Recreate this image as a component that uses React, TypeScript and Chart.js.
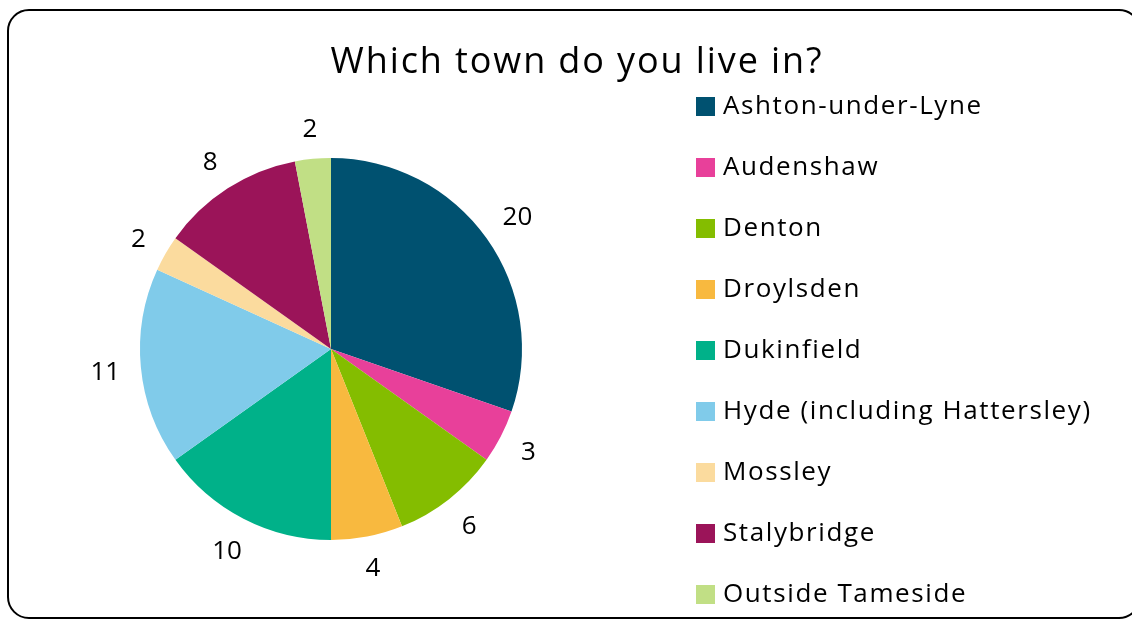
import React, { useEffect, useRef } from "react";
import { Chart, registerables } from "chart.js";

Chart.register(...registerables);

const title = "Which town do you live in?";
const towns = [
  "Ashton-under-Lyne",
  "Audenshaw",
  "Denton",
  "Droylsden",
  "Dukinfield",
  "Hyde (including Hattersley)",
  "Mossley",
  "Stalybridge",
  "Outside Tameside",
];
const counts = [20, 3, 6, 4, 10, 11, 2, 8, 2];
const colors = [
  "#005170",
  "#E8409A",
  "#84BD00",
  "#F8B93F",
  "#00B189",
  "#80CBEA",
  "#FBDB9E",
  "#9B1459",
  "#C1DF85",
];

const FONT = "'Open Sans', 'DejaVu Sans', sans-serif";

function drawCentered(ctx: CanvasRenderingContext2D, text: string, cx: number, cy: number) {
  const m = ctx.measureText(text);
  const asc = m.actualBoundingBoxAscent;
  const desc = 0;
  ctx.fillText(text, cx, cy + (asc - desc) / 2);
}

const overlayPlugin = {
  id: "overlay",
  afterDraw(chart: any) {
    const ctx = chart.ctx as CanvasRenderingContext2D;
    ctx.save();
    ctx.fillStyle = "#000";
    ctx.textBaseline = "alphabetic";

    // title
    ctx.font = `36px ${FONT}`;
    (ctx as any).letterSpacing = "1.9px";
    ctx.textAlign = "center";
    const tm = ctx.measureText("W");
    ctx.fillText(title, 577, 60 + tm.actualBoundingBoxAscent / 2);

    // value labels outside slices
    const meta = chart.getDatasetMeta(0);
    ctx.font = `26px ${FONT}`;
    (ctx as any).letterSpacing = "0px";
    meta.data.forEach((arc: any, i: number) => {
      const txt = String(chart.data.datasets[0].data[i]);
      const m = ctx.measureText(txt);
      const hw = m.width / 2;
      const hh = 10;
      const mid = (arc.startAngle + arc.endAngle) / 2;
      const c = Math.cos(mid);
      const s = Math.sin(mid);
      const d = arc.outerRadius + 20 + Math.abs(c) * hw + Math.abs(s) * hh;
      const x = arc.x + c * d;
      const y = arc.y + s * d;
      drawCentered(ctx, txt, x, y);
    });

    // legend
    const labels = chart.data.labels as string[];
    const bg = chart.data.datasets[0].backgroundColor as string[];
    ctx.textAlign = "left";
    ctx.font = `26px ${FONT}`;
    (ctx as any).letterSpacing = "1.6px";
    const capA = ctx.measureText("H").actualBoundingBoxAscent;
    labels.forEach((lab, i) => {
      const cy = 106 + i * 61;
      ctx.fillStyle = bg[i];
      ctx.fillRect(696, cy - 9, 19, 19);
      ctx.fillStyle = "#000";
      ctx.fillText(lab, 723, cy - 1.5 + capA / 2);
    });
    ctx.restore();
  },
};

export default function App() {
  const ref = useRef<HTMLCanvasElement | null>(null);
  useEffect(() => {
    if (!ref.current) return;
    const chart = new Chart(ref.current, {
      type: "pie",
      data: {
        labels: towns,
        datasets: [
          {
            data: counts,
            backgroundColor: colors,
            borderWidth: 0,
          },
        ],
      },
      options: {
        animation: false,
        responsive: false,
        maintainAspectRatio: false,
        layout: { padding: { left: 140, right: 630, top: 158, bottom: 81 } },
        plugins: {
          legend: { display: false },
          title: { display: false },
          tooltip: { enabled: false },
        },
      },
      plugins: [overlayPlugin],
    });
    return () => chart.destroy();
  }, []);

  return (
    <div
      style={{
        position: "fixed",
        left: 0,
        top: 0,
        width: 1132,
        height: 621,
        overflow: "hidden",
        background: "#fff",
      }}
    >
      <div
        style={{
          position: "absolute",
          left: 7,
          top: 9,
          width: 1134,
          height: 610,
          border: "2px solid #000",
          borderRadius: 22,
          boxSizing: "border-box",
        }}
      />
      <canvas
        ref={ref}
        width={1152}
        height={621}
        style={{ position: "absolute", left: 0, top: 0, width: 1152, height: 621 }}
      />
    </div>
  );
}
